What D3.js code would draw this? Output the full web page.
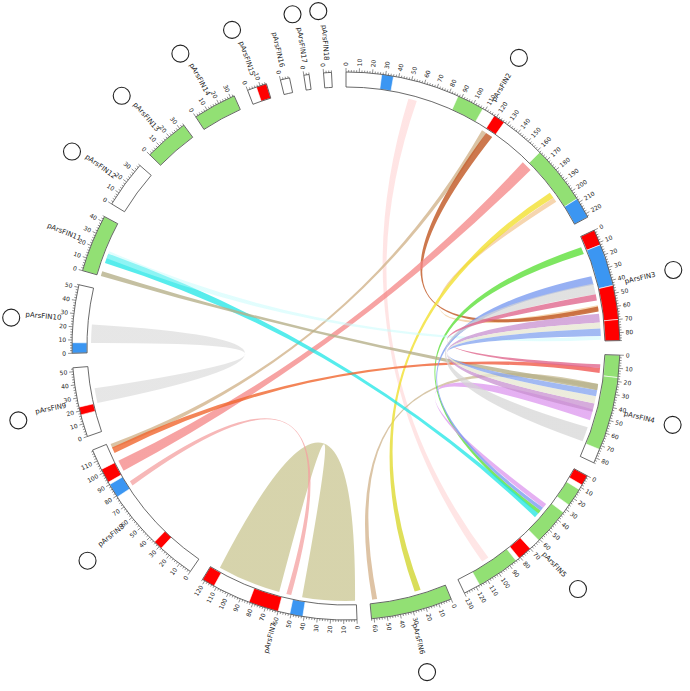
<!DOCTYPE html>
<html>
<head>
<meta charset="utf-8">
<script src="https://cdn.jsdelivr.net/npm/d3@7"></script>
<style>
  body { margin: 0; background: #fff; }
  text { font-family: "DejaVu Sans", sans-serif; fill: #222; }
</style>
</head>
<body>
<svg id="chart" width="690" height="691"></svg>
<script>
// plasmids, in drawing order (clockwise from 12 o'clock)
const segNames = ["pArsFIN2","pArsFIN3","pArsFIN4","pArsFIN5","pArsFIN6","pArsFIN7","pArsFIN8","pArsFIN9",
                  "pArsFIN10","pArsFIN11","pArsFIN12","pArsFIN13","pArsFIN14","pArsFIN15","pArsFIN16","pArsFIN17","pArsFIN18"];
const segLengths = [223, 86, 84, 130, 62, 122, 119, 53, 52, 44, 36, 34, 33, 15, 7, 4, 6];
const segMarker  = [1, 1, 1, 1, 1, 0, 1, 1, 1, 0, 1, 1, 1, 1, 0, 1, 1];

// highlighted regions on the ring: [plasmid, from, to, kind]
const bands = [
  [0, 27, 36, "b"], [0, 87, 108, "g"], [0, 118, 127, "r"], [0, 162, 207, "g"], [0, 207, 223, "b"],
  [1, 0, 12, "r"], [1, 12, 44, "b"], [1, 44, 70, "r"], [1, 70, 86, "r"],
  [2, 0, 17, "g"], [2, 17, 73, "g"],
  [3, 0, 8, "r"], [3, 12, 26, "g"], [3, 33, 61, "g"], [3, 70, 81, "r"], [3, 84, 117, "g"],
  [4, 0, 62, "g"],
  [5, 41, 51, "b"], [5, 60, 83, "r"], [5, 112, 122, "r"],
  [6, 28, 35, "r"], [6, 79, 90, "b"], [6, 92, 103, "r"],
  [7, 17, 23, "r"],
  [8, 0, 8, "b"],
  [9, 0, 44, "g"],
  [11, 0, 34, "g"],
  [12, 0, 33, "g"],
  [13, 7, 15, "r"]
];

// links: [plasmidA, fromA, toA, plasmidB, fromB, toB]
const links = [
  [5, 63, 115, 5, 1, 44],
  [8, 8, 23, 7, 23, 35],
  [0, 51, 58, 3, 100, 106],
  [0, 116, 120, 6, 114, 118],
  [4, 56, 60, 2, 24, 29],
  [0, 196, 200, 1, 57, 61],
  [0, 120, 126, 1, 58, 62],
  [0, 158, 167, 6, 94, 103],
  [0, 191, 196, 4, 20, 25],
  [1, 8, 14, 3, 43, 46],
  [9, 11, 19, 3, 46, 50],
  [9, 15, 21, 1, 82, 85],
  [9, 0, 4, 2, 24, 29],
  [6, 110, 115, 2, 11, 15],
  [6, 80, 84, 5, 53, 57],
  [2, 45, 54, 3, 36, 40],
  [1, 33, 40, 3, 40, 43],
  [1, 39, 48, 2, 60, 72],
  [1, 48, 53, 2, 8, 11],
  [1, 64, 71, 2, 40, 47],
  [1, 71, 76, 2, 34, 40],
  [1, 76, 82, 2, 29, 34]
];
// colour at end A, colour at end B, opacity (same order as links)
const linkColorA = ["#c9c590","#d6d6d6","#ffc4c4","#d2b48c","#d6b48e","#f2c48e","#c4602e","#f48484","#f2e030","#5ee03a",
                    "#1ee6e6","#c4fcfc","#b6b08a","#f0662e","#f4a0a0","#dc96ee","#7c9cf0","#d4d4d4","#e0688e","#c890d0","#e8e8d4","#8aa8f0"];
const linkColorB = ["#c9c590","#d6d6d6","#ffe4e4","#d2b48c","#c8c09a","#e0c0a0","#dcb890","#f48484","#a8c830","#50c848",
                    "#18c060","#e0f4ff","#c2be9a","#f0408a","#f4a0a0","#e0a0f0","#b0a8f0","#d4d4d4","#f04890","#c8a0d8","#e8e8d4","#acd4f8"];
const linkOpacity = [0.75, 0.6, 0.45, 0.8, 0.8, 0.7, 0.85, 0.75, 0.8, 0.8, 0.75, 0.5, 0.8, 0.8, 0.75, 0.75, 0.8, 0.7, 0.8, 0.75, 0.8, 0.8];

const cx = 346, cy = 346, rIn = 259, rOut = 274, rLink = 255;
const gap = 3.04 * Math.PI / 180;
const unit = (2 * Math.PI - gap * segLengths.length) / d3.sum(segLengths);
const bandColor = d3.scaleOrdinal().domain(["g", "r", "b"]).range(["#92e074", "#ff0000", "#3b96f2"]);
// how far the curve control sits beyond the centre, by angular distance of the two ends
const bend = d3.scaleLinear().domain([0, Math.PI]).range([55, 0]).clamp(true);

// one linear scale per plasmid: position -> angle
const scales = [];
let acc = 0;
segLengths.forEach(L => {
  scales.push(d3.scaleLinear().domain([0, L]).range([acc, acc + L * unit]));
  acc += L * unit + gap;
});

const svg = d3.select("#chart");
const defs = svg.append("defs");

const pt = (a, r) => [r * Math.sin(a), -r * Math.cos(a)];

function ctrl(a, b) {
  const x = Math.sin(a) + Math.sin(b), y = -Math.cos(a) - Math.cos(b);
  const n = Math.hypot(x, y) || 1;
  let d = Math.abs(a - b) % (2 * Math.PI);
  if (d > Math.PI) d = 2 * Math.PI - d;
  const k = bend(d);
  return [-k * x / n, -k * y / n];
}

function ribbon(s0, s1, t0, t1) {
  const p = d3.path();
  const A = pt(s0, rLink), B = pt(t0, rLink), c1 = ctrl(s1, t0), c2 = ctrl(t1, s0);
  p.moveTo(A[0], A[1]);
  p.arc(0, 0, rLink, s0 - Math.PI / 2, s1 - Math.PI / 2, false);
  p.quadraticCurveTo(c1[0], c1[1], B[0], B[1]);
  p.arc(0, 0, rLink, t0 - Math.PI / 2, t1 - Math.PI / 2, false);
  p.quadraticCurveTo(c2[0], c2[1], A[0], A[1]);
  p.closePath();
  return p.toString();
}

// links
links.forEach((l, i) => {
  const s0 = scales[l[0]](l[1]), s1 = scales[l[0]](l[2]);
  const t0 = scales[l[3]](l[4]), t1 = scales[l[3]](l[5]);
  const pa = pt((s0 + s1) / 2, rLink), pb = pt((t0 + t1) / 2, rLink);
  const grad = defs.append("linearGradient").attr("id", "lg" + i)
    .attr("gradientUnits", "userSpaceOnUse")
    .attr("x1", pa[0] + cx).attr("y1", pa[1] + cy).attr("x2", pb[0] + cx).attr("y2", pb[1] + cy);
  grad.append("stop").attr("offset", "0%").attr("stop-color", linkColorA[i]);
  grad.append("stop").attr("offset", "100%").attr("stop-color", linkColorB[i]);
  svg.append("path")
    .attr("transform", `translate(${cx},${cy})`)
    .attr("d", ribbon(s0, s1, t0, t1))
    .attr("fill", `url(#lg${i})`)
    .attr("fill-opacity", linkOpacity[i]);
});

const ring = svg.append("g").attr("transform", `translate(${cx},${cy})`);
const arc = d3.arc().innerRadius(rIn).outerRadius(rOut);

// plasmid boxes
ring.selectAll("path.seg").data(segLengths).join("path")
  .attr("class", "seg")
  .attr("d", (L, i) => arc({startAngle: scales[i](0), endAngle: scales[i](L)}))
  .attr("fill", "#fff");

ring.selectAll("path.band").data(bands).join("path")
  .attr("class", "band")
  .attr("d", b => arc({startAngle: scales[b[0]](b[1]), endAngle: scales[b[0]](b[2])}))
  .attr("fill", b => bandColor(b[3]))
  .attr("stroke", "#fff").attr("stroke-width", 0.6);

ring.selectAll("path.outline").data(segLengths).join("path")
  .attr("class", "outline")
  .attr("d", (L, i) => arc({startAngle: scales[i](0), endAngle: scales[i](L)}))
  .attr("fill", "none").attr("stroke", "#444").attr("stroke-width", 0.8);

// ticks
const deg = a => a * 180 / Math.PI;
segLengths.forEach((L, i) => {
  const ticks = d3.range(0, L + 0.001, 2);
  ticks.forEach(v => {
    const a = scales[i](v), major = v % 10 === 0;
    const p0 = pt(a, rOut), p1 = pt(a, rOut + (major ? 4 : 2));
    ring.append("line").attr("x1", p0[0]).attr("y1", p0[1]).attr("x2", p1[0]).attr("y2", p1[1])
      .attr("stroke", "#444").attr("stroke-width", 0.6);
    if (major) {
      const p = pt(a, rOut + 6), flip = deg(a) > 180;
      ring.append("text")
        .attr("transform", `translate(${p[0]},${p[1]}) rotate(${flip ? deg(a) + 90 : deg(a) - 90})`)
        .attr("text-anchor", flip ? "end" : "start")
        .attr("dy", "0.35em")
        .attr("font-size", 6)
        .text(v);
    }
  });
  // name and marker
  const m = scales[i](L / 2), flip = deg(m) > 180;
  const p = pt(m, 286);
  ring.append("text")
    .attr("transform", `translate(${p[0]},${p[1]}) rotate(${flip ? deg(m) + 90 : deg(m) - 90})`)
    .attr("text-anchor", flip ? "end" : "start")
    .attr("dy", "0.35em")
    .attr("font-size", 7)
    .text(segNames[i]);
  if (segMarker[i]) {
    const c = pt(flip ? m - 0.015 : m, 336);
    ring.append("circle").attr("cx", c[0]).attr("cy", c[1]).attr("r", 8.5)
      .attr("fill", "none").attr("stroke", "#222").attr("stroke-width", 1.1);
  }
});
</script>
</body>
</html>
